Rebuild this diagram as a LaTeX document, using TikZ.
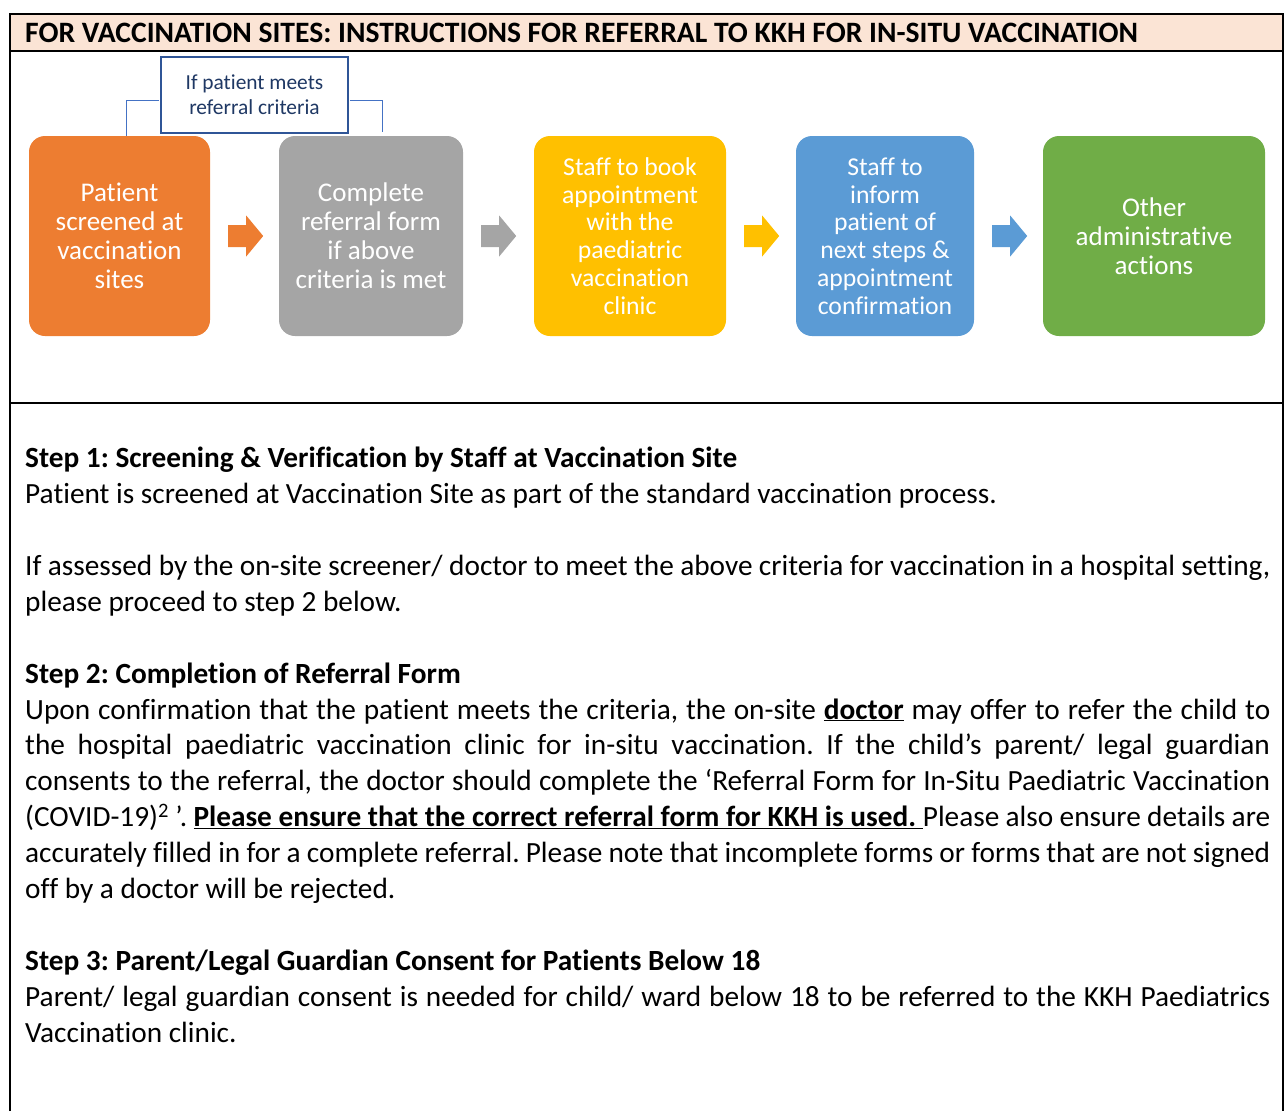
\documentclass[tikz,border=0pt]{standalone}
\usepackage{fontspec}
\setmainfont{Carlito}[Ligatures={NoCommon}]
\usetikzlibrary{calc}
\definecolor{cOrange}{HTML}{ED7D31}
\definecolor{cGray}{HTML}{A5A5A5}
\definecolor{cYellow}{HTML}{FFC000}
\definecolor{cBlue}{HTML}{5B9BD5}
\definecolor{cGreen}{HTML}{70AD47}
\definecolor{cPeach}{HTML}{FBE4D5}
\definecolor{cNavy}{HTML}{2F5597}
\definecolor{cLine}{HTML}{4472C4}
\definecolor{cCallText}{HTML}{1F3864}
\frenchspacing
\begin{document}
\begin{tikzpicture}[x=1pt,y=-1pt,
  stepbox/.style={rounded corners=16pt, minimum height=200pt, inner sep=2pt,
    text=white, align=center, font=\fontsize{27}{29}\selectfont},
  smallbox/.style={stepbox, font=\fontsize{25.7}{27.8}\selectfont},
  frameline/.style={line width=2.5pt, black},
  bracket/.style={cLine, line width=1pt}]
\useasboundingbox (0,0) rectangle (1285,1111);
% header band and frame
\fill[cPeach] (10,14) rectangle (1283,51);
\draw[frameline] (10,1111) -- (10,14) -- (1283,14) -- (1283,1111);
\draw[frameline] (10,51) -- (1283,51);
\draw[frameline] (10,403) -- (1283,403);
\node[anchor=base west, inner sep=0, font=\bfseries\fontsize{29.6}{35.9}\selectfont] (title) at (25,42)
  {FOR VACCINATION SITES: INSTRUCTIONS FOR REFERRAL TO KKH FOR IN-SITU VACCINATION};
% process boxes
\node[stepbox, fill=cOrange, minimum width=181pt] (b1) at (119.5,236) {Patient\\screened at\\vaccination\\sites};
\node[stepbox, fill=cGray, minimum width=184pt] (b2) at (371,236) {Complete\\referral form\\if above\\criteria is met};
\node[smallbox, fill=cYellow, minimum width=192pt] (b3) at (630,236) {Staff to book\\appointment\\with the\\paediatric\\vaccination\\clinic};
\node[smallbox, fill=cBlue, minimum width=178pt] (b4) at (885,236) {Staff to\\inform\\patient of\\next steps \&\\appointment\\confirmation};
\node[stepbox, fill=cGreen, minimum width=222pt] (b5) at (1154,236) {Other\\administrative\\actions};
% block arrows between boxes
\foreach \a/\c in {b1/cOrange, b2/cGray, b3/cYellow, b4/cBlue}{
  \fill[\c] ($(\a.east)+(18,-11)$) -- ++(18,0) -- ++(0,-9.5) -- ++(17,20.5)
     -- ++(-17,20.5) -- ++(0,-9.5) -- ++(-18,0) -- cycle;
}
% callout with bracket
\node[draw=cNavy, line width=1.8pt, fill=white, minimum width=187pt, minimum height=76pt,
  align=center, text=cCallText, font=\fontsize{21.4}{25}\selectfont] (call) at (254.5,95)
  {If patient meets\\referral criteria};
\draw[bracket] ($(call.west)+(-1,5)$) -| ($(b1.north)+(6.5,0)$);
\draw[bracket] ($(call.east)+(1,5)$) -| ($(b2.north)+(11,-4)$);
% instructions text
\node[anchor=north west, inner sep=0, text width=1245pt, align=justify,
  font=\fontsize{29.3}{35.9}\selectfont] (txt) at (25,447) {%
\textbf{Step 1: Screening \& Verification by Staff at Vaccination Site}\par
Patient is screened at Vaccination Site as part of the standard vaccination process.\par
\mbox{}\par
If assessed by the on-site screener/ doctor to meet the above criteria for vaccination in a hospital setting,\linebreak
please proceed to step 2 below.\par
\mbox{}\par
\textbf{Step 2: Completion of Referral Form}\par
Upon confirmation that the patient meets the criteria, the on-site \underline{\textbf{doctor}} may offer to refer the child to\linebreak
the hospital paediatric vaccination clinic for in-situ vaccination. If the child’s parent/ legal guardian\linebreak
consents to the referral, the doctor should complete the ‘Referral Form for In-Situ Paediatric Vaccination\linebreak
(COVID-19)\textsuperscript{2} ’. \underline{\textbf{Please ensure that the correct referral form for KKH is used.\ }}Please also ensure details are\linebreak
accurately filled in for a complete referral. Please note that incomplete forms or forms that are not signed\linebreak
off by a doctor will be rejected.\par
\mbox{}\par
\textbf{Step 3: Parent/Legal Guardian Consent for Patients Below 18}\par
Parent/ legal guardian consent is needed for child/ ward below 18 to be referred to the KKH Paediatrics\linebreak
Vaccination clinic.\par};
\end{tikzpicture}
\end{document}
